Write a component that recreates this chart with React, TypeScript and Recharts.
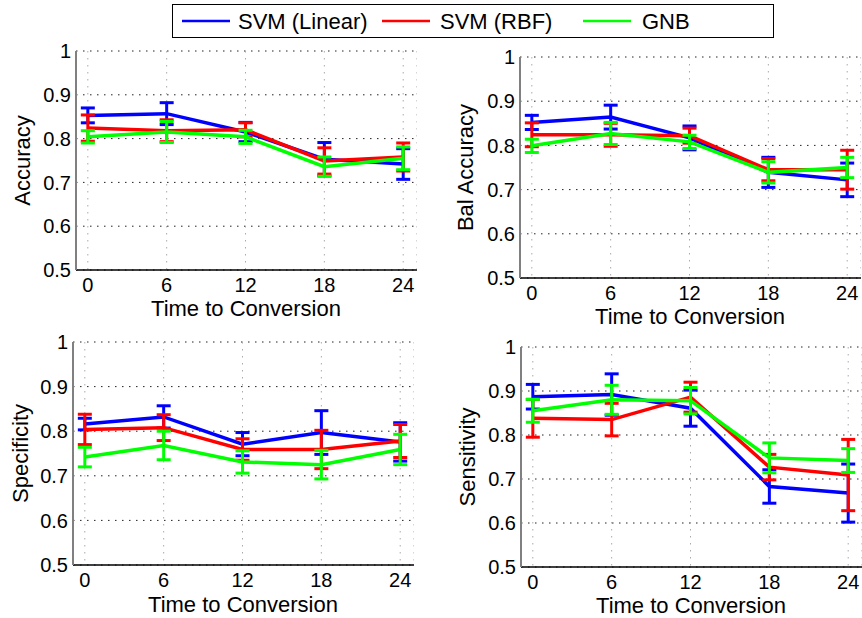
import React from 'react';
import { LineChart, Line, XAxis, YAxis, CartesianGrid, ErrorBar } from 'recharts';

const times = [0, 6, 12, 18, 24];
const xTicks = [0, 6, 12, 18, 24];
const yTicks = [0.5, 0.6, 0.7, 0.8, 0.9, 1];
const seriesNames = ['SVM (Linear)', 'SVM (RBF)', 'GNB'];
const seriesColors = ['#0000ff', '#ff0000', '#00ff00'];
const xLabel = 'Time to Conversion';

// Accuracy
const accLinear = [0.853, 0.857, 0.815, 0.753, 0.742];
const accLinearErr = [0.017, 0.025, 0.022, 0.038, 0.035];
const accRbf = [0.824, 0.818, 0.82, 0.749, 0.758];
const accRbfErr = [0.03, 0.025, 0.016, 0.03, 0.032];
const accGnb = [0.804, 0.815, 0.804, 0.736, 0.755];
const accGnbErr = [0.014, 0.024, 0.015, 0.022, 0.026];

// Balanced accuracy
const balLinear = [0.852, 0.864, 0.817, 0.739, 0.722];
const balLinearErr = [0.016, 0.027, 0.027, 0.034, 0.038];
const balRbf = [0.824, 0.824, 0.822, 0.745, 0.745];
const balRbfErr = [0.027, 0.026, 0.017, 0.025, 0.044];
const balGnb = [0.799, 0.827, 0.808, 0.739, 0.75];
const balGnbErr = [0.015, 0.025, 0.015, 0.024, 0.023];

// Specificity
const specLinear = [0.816, 0.832, 0.771, 0.797, 0.776];
const specLinearErr = [0.013, 0.025, 0.026, 0.049, 0.043];
const specRbf = [0.804, 0.808, 0.759, 0.759, 0.778];
const specRbfErr = [0.034, 0.029, 0.024, 0.043, 0.037];
const specGnb = [0.742, 0.768, 0.731, 0.725, 0.759];
const specGnbErr = [0.022, 0.032, 0.025, 0.032, 0.034];

// Sensitivity
const sensLinear = [0.887, 0.892, 0.861, 0.683, 0.668];
const sensLinearErr = [0.028, 0.047, 0.041, 0.038, 0.066];
const sensRbf = [0.838, 0.835, 0.886, 0.727, 0.709];
const sensRbfErr = [0.043, 0.037, 0.034, 0.029, 0.081];
const sensGnb = [0.855, 0.88, 0.878, 0.748, 0.742];
const sensGnbErr = [0.026, 0.033, 0.03, 0.034, 0.027];

const FONT = '"Liberation Sans", Arial, Helvetica, sans-serif';

type PanelProps = {
  left: number;
  top: number;
  w: number;
  h: number;
  vals: number[][];
  errs: number[][];
};

function Panel({ left, top, w, h, vals, errs }: PanelProps) {
  const data = times.map((t, i) => {
    const row: Record<string, number> = { t };
    vals.forEach((v, s) => {
      row['v' + s] = v[i];
      row['e' + s] = errs[s][i];
    });
    return row;
  });
  const yW = 70;
  const mt = 10;
  const xH = 40;
  return (
    <div style={{ position: 'absolute', left: left - yW, top: top - mt }}>
      <LineChart
        width={yW + w}
        height={mt + h + xH}
        data={data}
        margin={{ top: mt, right: 0, bottom: 0, left: 0 }}
      >
        <CartesianGrid vertical={false} stroke="#222" strokeDasharray="1.5 5.5" strokeWidth={1} />
        <CartesianGrid horizontal={false} stroke="#aaa" strokeDasharray="1.5 5.5" strokeWidth={1} />
        <XAxis
          dataKey="t"
          type="number"
          domain={[-0.9, 25.05]}
          ticks={xTicks}
          interval={0}
          allowDataOverflow
          height={xH}
          tickLine={false}
          tickSize={0}
          tickMargin={8}
          axisLine={{ stroke: '#000', strokeWidth: 1.5 }}
          tick={{ fontSize: 20, fill: '#000', fontFamily: FONT }}
        />
        <YAxis
          type="number"
          domain={[0.5, 1]}
          ticks={yTicks}
          interval={0}
          allowDataOverflow
          width={yW}
          tickLine={false}
          tickSize={0}
          tickMargin={5}
          axisLine={{ stroke: '#808080', strokeWidth: 2 }}
          tick={{ fontSize: 20, fill: '#000', fontFamily: FONT }}
          tickFormatter={(v: number) => (v === 1 ? '1' : v.toFixed(1))}
        />
        {vals.map((_, s) => (
          <Line
            key={s}
            type="linear"
            dataKey={'v' + s}
            name={seriesNames[s]}
            stroke={seriesColors[s]}
            strokeWidth={3.5}
            dot={false}
            activeDot={false}
            isAnimationActive={false}
          >
            <ErrorBar
              dataKey={'e' + s}
              direction="y"
              width={7}
              stroke={seriesColors[s]}
              strokeWidth={3}
              isAnimationActive={false}
            />
          </Line>
        ))}
      </LineChart>
    </div>
  );
}

const panels = [
  { left: 76, top: 51, w: 341, h: 219, yLabel: 'Accuracy', yLabX: 30, xLabX: 246, xLabY: 316,
    vals: [accLinear, accRbf, accGnb], errs: [accLinearErr, accRbfErr, accGnbErr] },
  { left: 520, top: 57, w: 341, h: 221, yLabel: 'Bal Accuracy', yLabX: 473, xLabX: 690, xLabY: 324,
    vals: [balLinear, balRbf, balGnb], errs: [balLinearErr, balRbfErr, balGnbErr] },
  { left: 73, top: 342, w: 341, h: 223, yLabel: 'Specificity', yLabX: 28, xLabX: 243, xLabY: 612,
    vals: [specLinear, specRbf, specGnb], errs: [specLinearErr, specRbfErr, specGnbErr] },
  { left: 521, top: 347, w: 341, h: 220, yLabel: 'Sensitivity', yLabX: 475, xLabX: 691, xLabY: 613,
    vals: [sensLinear, sensRbf, sensGnb], errs: [sensLinearErr, sensRbfErr, sensGnbErr] },
];

const legendLineX = [182, 382, 583];
const legendTextX = [238, 440, 642];

export default function App() {
  return (
    <div
      style={{
        position: 'absolute',
        left: 0,
        top: 0,
        width: 862,
        height: 618,
        overflow: 'hidden',
        background: '#fff',
        fontFamily: FONT,
      }}
    >
      {panels.map((p, i) => (
        <Panel key={i} left={p.left} top={p.top} w={p.w} h={p.h} vals={p.vals} errs={p.errs} />
      ))}
      <svg
        width={862}
        height={618}
        style={{ position: 'absolute', left: 0, top: 0, pointerEvents: 'none' }}
      >
        {panels.map((p, i) => (
          <g key={i} fontFamily={FONT} fill="#000">
            <text x={p.xLabX} y={p.xLabY} fontSize={22} textAnchor="middle">
              {xLabel}
            </text>
            <text
              x={0}
              y={0}
              fontSize={22}
              textAnchor="middle"
              transform={`translate(${p.yLabX},${p.top + p.h / 2}) rotate(-90)`}
            >
              {p.yLabel}
            </text>
          </g>
        ))}
        <rect x={172.5} y={4.5} width={601} height={33} fill="#fff" stroke="#000" strokeWidth={1} />
        {seriesNames.map((n, i) => (
          <g key={n}>
            <line
              x1={legendLineX[i]}
              x2={legendLineX[i] + 48}
              y1={21}
              y2={21}
              stroke={seriesColors[i]}
              strokeWidth={2.5}
            />
            <text x={legendTextX[i]} y={28.5} fontSize={22} fontFamily={FONT} fill="#000">
              {n}
            </text>
          </g>
        ))}
      </svg>
    </div>
  );
}
